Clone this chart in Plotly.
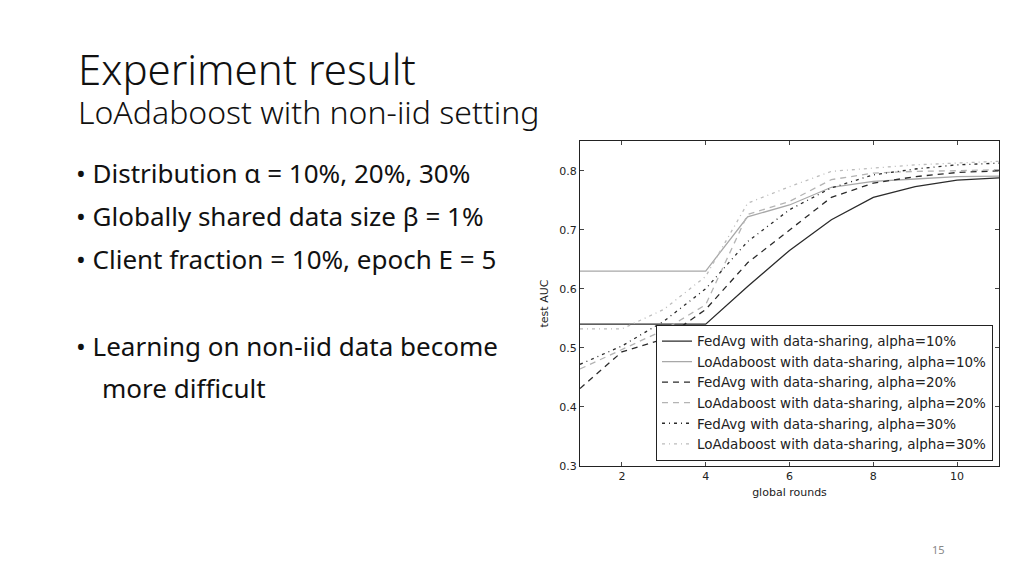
import plotly.graph_objects as go

# global rounds and test AUC
rounds = [1, 2, 3, 4, 5, 6, 7, 8, 9, 10, 11]

fedavg_10 = [0.540, 0.540, 0.540, 0.540, 0.604, 0.665, 0.717, 0.755, 0.773, 0.784, 0.788]
loada_10 = [0.630, 0.630, 0.630, 0.630, 0.722, 0.742, 0.772, 0.782, 0.786, 0.790, 0.791]
fedavg_20 = [0.431, 0.493, 0.515, 0.565, 0.644, 0.700, 0.755, 0.779, 0.790, 0.797, 0.800]
loada_20 = [0.464, 0.497, 0.530, 0.573, 0.726, 0.748, 0.785, 0.796, 0.799, 0.800, 0.802]
fedavg_30 = [0.472, 0.503, 0.545, 0.600, 0.680, 0.734, 0.771, 0.793, 0.803, 0.810, 0.813]
loada_30 = [0.532, 0.532, 0.565, 0.621, 0.745, 0.773, 0.799, 0.804, 0.810, 0.813, 0.816]

series_names = [
    "FedAvg with data-sharing, alpha=10%",
    "LoAdaboost with data-sharing, alpha=10%",
    "FedAvg with data-sharing, alpha=20%",
    "LoAdaboost with data-sharing, alpha=20%",
    "FedAvg with data-sharing, alpha=30%",
    "LoAdaboost with data-sharing, alpha=30%",
]
series_values = [fedavg_10, loada_10, fedavg_20, loada_20, fedavg_30, loada_30]
colors = ["#2b2b2b", "#a8a8a8", "#2b2b2b", "#b4b4b4", "#2b2b2b", "#bcbcbc"]
dashes = ["solid", "solid", "6px,5px", "6px,5px", "3px,4px,1px,4px", "3px,4px,1px,4px"]

bullets = [
    "• Distribution α = 10%, 20%, 30%",
    "• Globally shared data size β = 1%",
    "• Client fraction = 10%, epoch E = 5",
]

# the viewport comes out slightly taller than the photo, so size the figure to it
# and place things as fractions of the 576px slide
W, H = 1024, 584
SLIDE_H = 576


def px(x, y):
    return x / W, 1 - y / SLIDE_H


fig = go.Figure()
for name, vals, col, dsh in zip(series_names, series_values, colors, dashes):
    fig.add_trace(go.Scatter(x=rounds, y=vals, mode="lines", name=name,
                             line=dict(color=col, width=1.3, dash=dsh)))

lx, ly = px(993, 460)
fig.update_layout(
    width=W, height=H,
    margin=dict(l=0, r=0, t=0, b=0),
    paper_bgcolor="white", plot_bgcolor="white",
    font=dict(family="DejaVu Sans", color="#222"),
    legend=dict(x=lx, y=ly, xanchor="right", yanchor="bottom",
                bgcolor="white", bordercolor="#222", borderwidth=1,
                font=dict(size=13.5, color="#222"), tracegroupgap=0,
                itemwidth=30),
    xaxis=dict(domain=[580 / W, 999 / W], range=[1, 11], tickvals=[2, 4, 6, 8, 10],
               ticks="inside", ticklen=4, mirror="ticks", showline=True,
               linecolor="#222", linewidth=1, showgrid=False, zeroline=False,
               tickfont=dict(size=11),
               title=dict(text="global rounds", font=dict(size=11), standoff=6)),
    yaxis=dict(domain=[px(0, 465)[1], px(0, 141)[1]], range=[0.3, 0.85],
               tickvals=[0.3, 0.4, 0.5, 0.6, 0.7, 0.8], tickformat=".1f",
               ticks="inside", ticklen=4, mirror="ticks", showline=True,
               linecolor="#222", linewidth=1, showgrid=False, zeroline=False,
               tickfont=dict(size=11),
               title=dict(text="test AUC", font=dict(size=11), standoff=8)),
)

slide_font = "Noto Sans"


def note(text, x, y, size, weight=400, color="#111", anchor="left"):
    ax, ay = px(x, y)
    fig.add_annotation(text=text, xref="paper", yref="paper", x=ax, y=ay,
                       xanchor=anchor, yanchor="middle", showarrow=False,
                       font=dict(family=slide_font, size=size, color=color, weight=weight))


note("Experiment result", 76, 68, 42, weight=300)
note("LoAdaboost with non-iid setting", 76, 111, 32, weight=300)
for i, b in enumerate(bullets):
    note(b, 74, 173 + 43 * i, 26)
note("• Learning on non-iid data become", 74, 345, 26)
note("more difficult", 100, 387, 26)
note("15", 938, 549, 11, color="#888", anchor="center")

# drop the page's default body margin so the figure sits at the window's corner
fig.write_html("out.html", config={"displayModeBar": False},
               post_script="document.body.style.margin='0';")
